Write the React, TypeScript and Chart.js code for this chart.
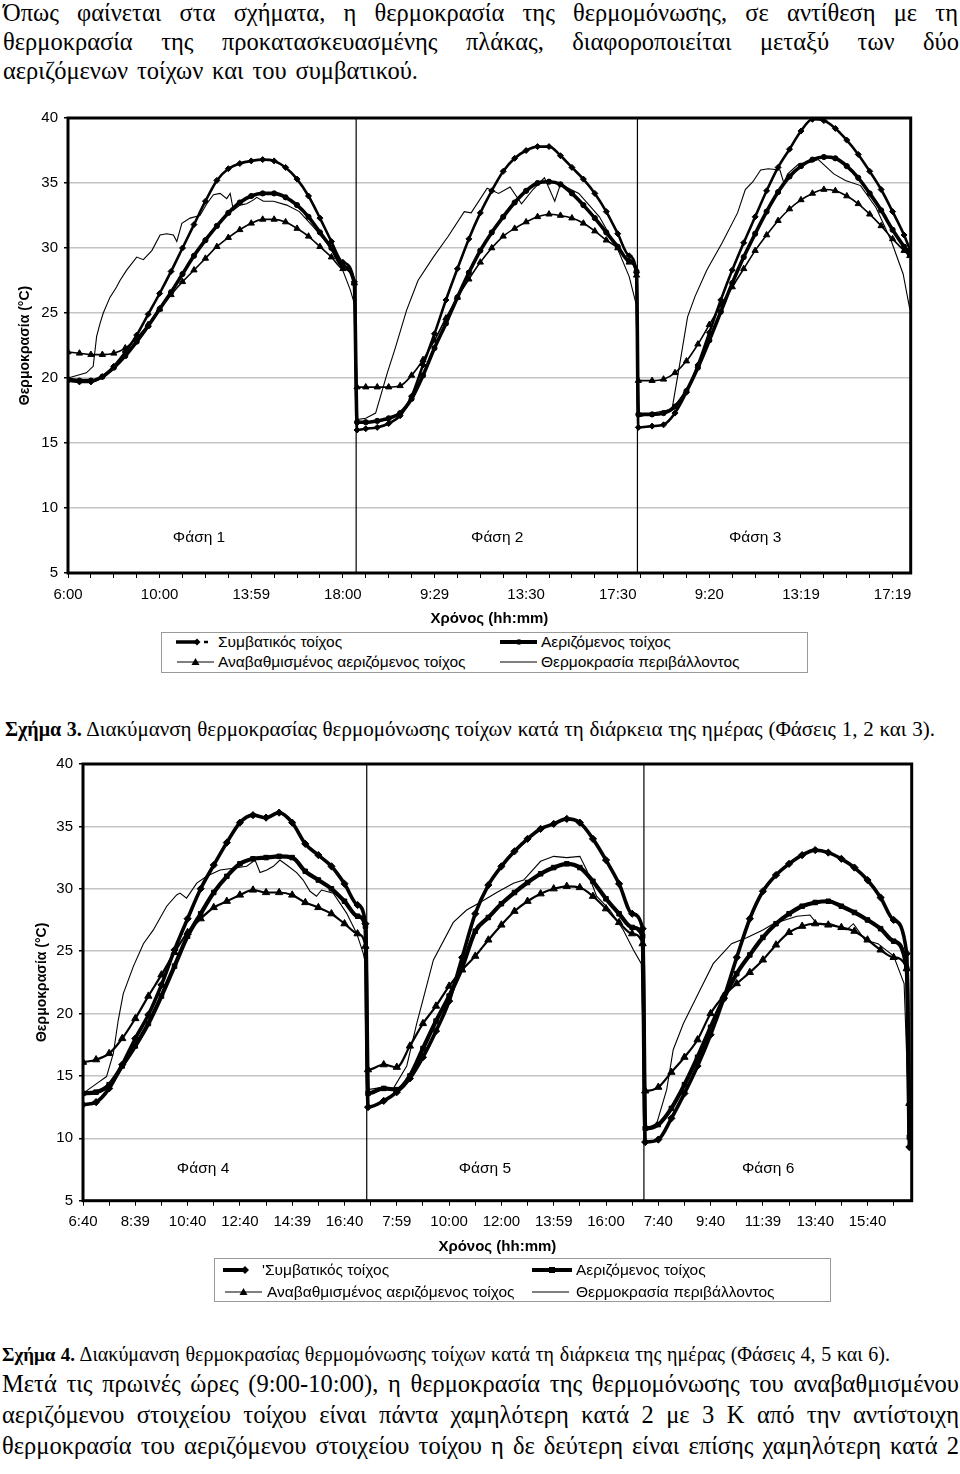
import React, { useEffect, useLayoutEffect, useRef } from 'react';
import { Chart, registerables } from 'chart.js';

Chart.register(...registerables);

const SANS = '"Liberation Sans", Arial, sans-serif';
const SERIF = '"Liberation Serif", "Times New Roman", serif';
Chart.defaults.font.family = SANS;

// ---------------- Σχήμα 3 (Φάσεις 1, 2, 3) ----------------
const xLabels3 = ['6:00', '10:00', '13:59', '18:00', '9:29', '13:30', '17:30', '9:20', '13:19', '17:19'];
const phaseNames3 = ['Φάση 1', 'Φάση 2', 'Φάση 3'];
const dividers3 = [12.58, 24.86];

const hours3 = [
  0, 0.5, 1, 1.5, 2, 2.5, 3, 3.5, 4, 4.5, 5, 5.5, 6, 6.5, 7, 7.5, 8, 8.5, 9, 9.5, 10, 10.5, 11, 11.5, 12, 12.5,
  12.62, 13, 13.5, 14, 14.5, 15, 15.5, 16, 16.5, 17, 17.5, 18, 18.5, 19, 19.5, 20, 20.5, 21, 21.5, 22, 22.5, 23, 23.5, 24, 24.5, 24.82,
  24.9, 25.5, 26, 26.5, 27, 27.5, 28, 28.5, 29, 29.5, 30, 30.5, 31, 31.5, 32, 32.5, 33, 33.5, 34, 34.5, 35, 35.5, 36, 36.5, 36.75,
];
const conv3 = [
  19.8, 19.7, 19.7, 20.1, 20.9, 22.0, 23.3, 24.9, 26.5, 28.2, 30.0, 31.8, 33.6, 35.2, 36.1, 36.5, 36.7, 36.8, 36.7, 36.2, 35.3, 34.0, 32.3, 30.5, 28.9, 27.4,
  16.0, 16.1, 16.2, 16.5, 17.1, 18.6, 21.0, 23.4, 26.0, 28.4, 30.7, 32.7, 34.4, 35.9, 36.9, 37.5, 37.8, 37.8, 37.1, 36.2, 35.3, 34.2, 32.8, 31.1, 29.4, 28.1,
  16.2, 16.3, 16.4, 17.3, 18.9, 21.0, 23.5, 26.0, 28.3, 30.4, 32.4, 34.4, 36.2, 37.6, 39.0, 39.9, 39.8, 39.2, 38.3, 37.2, 35.9, 34.5, 32.8, 31.0, 29.9,
];
const aer3 = [
  19.9, 19.8, 19.8, 20.1, 20.8, 21.7, 22.8, 24.0, 25.3, 26.6, 28.0, 29.4, 30.6, 31.7, 32.7, 33.5, 34.0, 34.2, 34.2, 33.9, 33.3, 32.4, 31.2, 30.0, 28.6, 27.3,
  16.6, 16.6, 16.7, 16.9, 17.3, 18.4, 20.2, 22.3, 24.2, 26.2, 28.1, 29.8, 31.2, 32.4, 33.5, 34.4, 35.0, 35.1, 34.9, 34.2, 33.3, 32.3, 31.2, 30.1, 29.0, 28.2,
  17.2, 17.2, 17.3, 17.8, 19.0, 20.8, 22.9, 25.1, 27.3, 29.3, 31.1, 32.8, 34.3, 35.5, 36.3, 36.8, 37.0, 36.9, 36.3, 35.4, 34.2, 32.9, 31.4, 30.1, 29.5,
];
const upg3 = [
  22.0, 21.9, 21.8, 21.8, 21.9, 22.3, 23.1, 24.1, 25.3, 26.4, 27.4, 28.3, 29.2, 30.1, 30.8, 31.4, 31.9, 32.2, 32.2, 32.0, 31.5, 30.9, 30.1, 29.3, 28.4, 27.3,
  19.3, 19.3, 19.3, 19.3, 19.4, 20.2, 21.4, 22.9, 24.6, 26.2, 27.6, 28.9, 30.0, 30.9, 31.5, 32.0, 32.4, 32.6, 32.5, 32.3, 31.9, 31.3, 30.6, 30.0, 28.9, 27.9,
  19.8, 19.8, 19.9, 20.4, 21.3, 22.6, 24.1, 25.6, 27.0, 28.4, 29.8, 31.0, 32.1, 33.0, 33.7, 34.2, 34.5, 34.4, 34.0, 33.4, 32.6, 31.7, 30.7, 29.8, 29.4,
];
const ambHours3 = [
  0, 0.8, 1.1, 1.25, 1.4, 1.54, 1.83, 2.12, 2.27, 2.56, 3.0, 3.29, 3.66, 4.02, 4.31, 4.6, 4.75, 4.97, 5.33, 5.76, 6.06, 6.35, 6.64, 6.93, 7.08,
  7.22, 7.51, 7.8, 8.1, 8.24, 8.53, 8.97, 9.55, 10.1, 10.72, 11.3, 11.88, 12.32, 12.54,
  12.62, 13.0, 13.43, 13.94, 14.27, 14.78, 15.28, 15.95, 16.6, 17.3, 17.6, 18.3, 18.8, 19.3, 19.8, 20.3, 20.8, 21.25, 21.5, 22.3, 23.2, 24.0, 24.5, 24.8,
  24.9, 25.53, 26.37, 26.71, 27.05, 27.38, 27.89, 28.56, 29.23, 29.57, 29.9, 30.24, 30.57, 31.08, 31.25, 31.42, 31.92, 32.42, 32.76, 33.43, 33.94,
  34.6, 35.28, 35.95, 36.46, 36.75,
];
const amb3 = [
  20.0, 20.4, 20.9, 23.2, 24.2, 25.0, 26.2, 27.0, 27.5, 28.3, 29.3, 29.1, 29.8, 31.0, 31.1, 31.0, 30.5, 31.9, 32.3, 32.5, 33.4, 34.1, 34.2, 33.8, 34.2,
  32.9, 33.3, 33.4, 33.7, 33.9, 33.6, 33.6, 33.3, 32.8, 31.6, 30.4, 28.8, 26.8, 25.5,
  16.8, 16.9, 17.3, 20.4, 22.2, 25.2, 27.5, 29.3, 30.9, 32.8, 32.7, 34.6, 34.2, 34.7, 33.4, 34.5, 35.4, 33.6, 34.9, 34.2, 32.4, 29.9, 27.8, 25.7,
  17.0, 17.3, 17.6, 21.1, 24.7, 26.3, 28.3, 30.4, 32.7, 34.5, 35.1, 36.0, 36.1, 36.0, 35.0, 35.7, 36.5, 36.6, 36.8, 35.7, 35.2,
  34.8, 33.1, 30.5, 28.0, 25.3,
];

// ---------------- Σχήμα 4 (Φάσεις 4, 5, 6) ----------------
const xLabels4 = ['6:40', '8:39', '10:40', '12:40', '14:39', '16:40', '7:59', '10:00', '12:00', '13:59', '16:00', '7:40', '9:40', '11:39', '13:40', '15:40'];
const phaseNames4 = ['Φάση 4', 'Φάση 5', 'Φάση 6'];
const dividers4 = [10.85, 21.45];

const hours4 = [
  0, 0.5, 1, 1.5, 2, 2.5, 3, 3.5, 4, 4.5, 5, 5.5, 6, 6.5, 7, 7.5, 8, 8.5, 9, 9.5, 10, 10.5, 10.8,
  10.9, 11.5, 12, 12.5, 13, 13.5, 14, 14.5, 15, 15.5, 16, 16.5, 17, 17.5, 18, 18.5, 19, 19.5, 20, 20.5, 21, 21.4,
  21.5, 22, 22.5, 23, 23.5, 24, 24.5, 25, 25.5, 26, 26.5, 27, 27.5, 28, 28.5, 29, 29.5, 30, 30.5, 31, 31.5, 31.6,
];
const conv4 = [
  12.7, 12.9, 14.0, 15.9, 18.0, 19.9, 22.3, 25.1, 27.6, 30.0, 31.9, 33.7, 35.3, 35.9, 35.7, 36.1, 35.3, 33.6, 32.7, 31.8, 30.4, 28.7, 27.2,
  12.5, 13.0, 13.7, 14.8, 16.5, 18.6, 21.0, 24.5, 28.0, 30.3, 31.8, 33.0, 34.0, 34.8, 35.2, 35.6, 35.3, 34.0, 32.3, 30.4, 28.0, 26.8,
  9.7, 9.9, 11.6, 13.6, 15.8, 18.3, 21.2, 24.5, 27.6, 29.8, 31.1, 32.0, 32.7, 33.1, 32.9, 32.4, 31.7, 30.7, 29.3, 27.5, 24.8, 9.3,
];
const aer4 = [
  13.6, 13.7, 14.3, 15.8, 17.4, 19.2, 21.4, 23.8, 26.2, 28.0, 29.7, 31.0, 32.0, 32.4, 32.5, 32.6, 32.5, 31.4, 30.7, 30.0, 29.0, 27.8, 27.0,
  13.6, 14.0, 13.9, 15.0, 17.2, 19.4, 21.4, 23.7, 26.6, 27.7, 28.8, 29.7, 30.5, 31.2, 31.7, 32.0, 31.7, 30.6, 29.2, 28.0, 26.9, 26.2,
  10.8, 11.1, 12.4, 14.3, 16.5, 18.9, 21.2, 23.2, 24.7, 26.1, 27.2, 28.0, 28.6, 28.9, 29.0, 28.6, 28.1, 27.5, 26.8, 25.8, 23.6, 10.1,
];
const upg4 = [
  16.1, 16.3, 16.8, 18.0, 19.6, 21.4, 23.1, 24.9, 26.5, 27.6, 28.5, 29.0, 29.5, 29.9, 29.7, 29.7, 29.5, 28.9, 28.5, 28.0, 27.2, 26.4, 25.4,
  15.5, 15.9, 15.7, 17.4, 19.2, 20.6, 22.2, 23.5, 24.6, 25.9, 27.1, 28.2, 29.0, 29.6, 30.0, 30.2, 30.1, 29.4, 28.4, 27.3, 26.4, 25.6,
  13.8, 14.1, 15.3, 16.5, 17.9, 20.0, 21.4, 22.4, 23.3, 24.3, 25.5, 26.5, 27.0, 27.2, 27.1, 26.9, 26.6, 25.9, 25.1, 24.5, 23.6, 12.8,
];
const ambHours4 = [
  0, 0.6, 0.9, 1.16, 1.35, 1.54, 1.93, 2.31, 2.69, 3.2, 3.58, 3.71, 3.96, 4.35, 4.73, 5.24, 5.75, 6.26, 6.58, 6.77, 7.03, 7.28, 7.53, 7.79, 8.17,
  8.42, 8.68, 8.93, 9.12, 9.57, 10.08, 10.47, 10.72, 10.82,
  10.9, 11.5, 11.87, 12.38, 12.76, 13.0, 13.4, 14.16, 14.67, 15.18, 15.82, 16.46, 16.85, 17.5, 18.0, 18.5, 19.0, 19.26, 19.64, 20.15, 20.66, 21.05, 21.35,
  21.5, 21.94, 22.32, 22.57, 22.96, 23.34, 23.6, 24.1, 24.8, 25.4, 26.0, 26.4, 27.3, 27.8, 28.06, 28.6, 29.2, 29.46, 29.9, 30.4, 31.0, 31.4, 31.6,
];
const amb4 = [
  13.6, 14.5, 14.95, 16.8, 19.5, 21.6, 23.8, 25.6, 26.7, 28.6, 29.5, 29.65, 29.25, 30.45, 31.0, 31.5, 31.65, 31.8, 32.3, 31.3, 31.5, 31.8, 32.3, 31.9, 31.3,
  30.7, 29.8, 29.4, 29.9, 29.65, 28.05, 26.4, 24.8, 23.8,
  13.9, 14.1, 14.0, 15.8, 19.2, 21.1, 24.3, 27.3, 28.3, 28.9, 29.7, 30.45, 30.7, 32.2, 32.6, 32.5, 32.6, 31.5, 29.4, 28.3, 26.7, 25.1, 24.0,
  10.7, 11.2, 13.9, 17.1, 19.2, 20.8, 21.9, 24.0, 25.6, 26.1, 26.7, 27.2, 27.8, 27.9, 27.2, 27.2, 26.7, 27.2, 25.9, 25.6, 24.6, 22.4, 10.5,
];

const seriesNames = ['Συμβατικός τοίχος', 'Αεριζόμενος τοίχος', 'Αναβαθμισμένος αεριζόμενος τοίχος', 'Θερμοκρασία περιβάλλοντος'];

type Fig = {
  hours: number[]; conv: number[]; aer: number[]; upg: number[];
  ambHours: number[]; amb: number[];
  xLabels: string[]; labelEvery: number; xMax: number;
  dividers: number[]; phaseNames: string[]; phaseHours: number[]; phaseTemp: number;
  aerStyle: string;
  lw: { conv: number; aer: number; upg: number; convR: number; aerR: number; upgR: number };
  top: number; height: number; yAxisWidth: number; padTop: number; padRight: number;
  xAxisHeight: number; yTitlePad: number; xTitlePad: number; tickPad: number;
};

const fig3: Fig = {
  hours: hours3, conv: conv3, aer: aer3, upg: upg3, ambHours: ambHours3, amb: amb3,
  xLabels: xLabels3, labelEvery: 4, xMax: 36.79,
  dividers: dividers3, phaseNames: phaseNames3, phaseHours: [5.72, 18.74, 30.0], phaseTemp: 7.7,
  aerStyle: 'circle',
  lw: { conv: 2.6, aer: 3.6, upg: 1.6, convR: 3, aerR: 2.6, upgR: 3.6 },
  top: 100, height: 530, yAxisWidth: 68, padTop: 18, padRight: 49.3, xAxisHeight: 57,
  yTitlePad: 16.6, xTitlePad: 2.4, tickPad: 8.2,
};
const fig4: Fig = {
  hours: hours4, conv: conv4, aer: aer4, upg: upg4, ambHours: ambHours4, amb: amb4,
  xLabels: xLabels4, labelEvery: 2, xMax: 31.69,
  dividers: dividers4, phaseNames: phaseNames4, phaseHours: [4.59, 15.37, 26.2], phaseTemp: 7.6,
  aerStyle: 'rect',
  lw: { conv: 3.6, aer: 4.2, upg: 2.2, convR: 3.6, aerR: 3.2, upgR: 4.2 },
  top: 740, height: 520, yAxisWidth: 83, padTop: 24, padRight: 48.3, xAxisHeight: 59.3,
  yTitlePad: 33.6, xTitlePad: 4.2, tickPad: 7.5,
};

const decorPlugin = {
  id: 'decor',
  beforeDatasetsDraw(chart: any, _args: any, opts: any) {
    const { ctx, chartArea: a, scales } = chart;
    const x = scales.x, y = scales.y;
    ctx.save();
    ctx.strokeStyle = '#000';
    ctx.lineWidth = 1.2;
    for (const d of opts.dividers) {
      const px = x.getPixelForValue(d);
      ctx.beginPath();
      ctx.moveTo(px, a.top);
      ctx.lineTo(px, a.bottom);
      ctx.stroke();
    }
    ctx.fillStyle = '#000';
    ctx.font = `15.5px ${SANS}`;
    ctx.textAlign = 'center';
    ctx.textBaseline = 'middle';
    opts.phaseNames.forEach((t: string, i: number) => {
      ctx.fillText(t, x.getPixelForValue(opts.phaseHours[i]), y.getPixelForValue(opts.phaseTemp));
    });
    ctx.restore();
  },
  afterDatasetsDraw(chart: any) {
    const { ctx, chartArea: a } = chart;
    ctx.save();
    ctx.strokeStyle = '#000';
    ctx.lineWidth = 3;
    ctx.strokeRect(a.left, a.top, a.right - a.left, a.bottom - a.top);
    ctx.restore();
  },
};

function FigureChart({ fig }: { fig: Fig }) {
  const ref = useRef<HTMLCanvasElement>(null);
  useEffect(() => {
    const pts = (xs: number[], ys: number[]) => xs.map((x, i) => ({ x, y: ys[i] }));
    const tickVals = Array.from({ length: Math.floor(fig.xMax) + 1 }, (_, i) => i);
    const lw = fig.lw;
    const chart = new Chart(ref.current as HTMLCanvasElement, {
      type: 'line',
      data: {
        datasets: [
          {
            label: seriesNames[3], data: pts(fig.ambHours, fig.amb), borderColor: '#000', borderWidth: 1.1,
            pointRadius: 0, tension: 0,
          },
          {
            label: seriesNames[2], data: pts(fig.hours, fig.upg), borderColor: '#000', backgroundColor: '#000',
            borderWidth: lw.upg, pointStyle: 'triangle', pointRadius: lw.upgR, pointBorderWidth: 1, cubicInterpolationMode: 'monotone',
          },
          {
            label: seriesNames[1], data: pts(fig.hours, fig.aer), borderColor: '#000', backgroundColor: '#000',
            borderWidth: lw.aer, pointStyle: fig.aerStyle, pointRadius: lw.aerR, pointBorderWidth: 1, cubicInterpolationMode: 'monotone',
          },
          {
            label: seriesNames[0], data: pts(fig.hours, fig.conv), borderColor: '#000', backgroundColor: '#000',
            borderWidth: lw.conv, pointStyle: 'rectRot', pointRadius: lw.convR, pointBorderWidth: 1, cubicInterpolationMode: 'monotone',
          },
        ] as any,
      },
      options: {
        animation: false,
        responsive: false,
        maintainAspectRatio: false,
        layout: { padding: { top: fig.padTop, right: fig.padRight, left: 0, bottom: 0 } },
        plugins: {
          legend: { display: false },
          tooltip: { enabled: false },
          decor: { dividers: fig.dividers, phaseNames: fig.phaseNames, phaseHours: fig.phaseHours, phaseTemp: fig.phaseTemp },
        } as any,
        scales: {
          x: {
            type: 'linear', min: 0, max: fig.xMax,
            afterBuildTicks: (s: any) => { s.ticks = tickVals.map((v) => ({ value: v })); },
            afterFit: (s: any) => { s.height = fig.xAxisHeight; },
            grid: { drawOnChartArea: false, drawTicks: true, tickLength: 5, tickColor: '#000', color: '#000' },
            border: { display: false },
            ticks: {
              autoSkip: false, maxRotation: 0, minRotation: 0, padding: fig.tickPad, color: '#000',
              font: { family: SANS, size: 15 },
              callback: (v: any) => {
                const n = Math.round(Number(v));
                return n % fig.labelEvery === 0 ? (fig.xLabels[n / fig.labelEvery] ?? '') : '';
              },
            },
            title: {
              display: true, text: 'Χρόνος (hh:mm)', color: '#000',
              font: { family: SANS, size: 15, weight: 'bold' }, padding: { top: 0, bottom: fig.xTitlePad },
            },
          },
          y: {
            type: 'linear', min: 5, max: 40,
            afterFit: (s: any) => { s.width = fig.yAxisWidth; },
            grid: { color: '#c4c4c4', lineWidth: 1.5, tickLength: 4, tickColor: '#000' },
            border: { display: false },
            ticks: { stepSize: 5, padding: 6, color: '#000', font: { family: SANS, size: 15 } },
            title: {
              display: true, text: 'Θερμοκρασία (°C)', color: '#000',
              font: { family: SANS, size: 14, weight: 'bold' }, padding: { top: fig.yTitlePad, bottom: 0 },
            },
          },
        } as any,
      },
      plugins: [decorPlugin as any],
    });
    return () => chart.destroy();
  }, [fig]);
  return (
    <canvas
      ref={ref}
      width={960}
      height={fig.height}
      style={{ position: 'absolute', left: 0, top: fig.top, width: 960, height: fig.height }}
    />
  );
}

function TextLine({ y, left, width, size, lh, children }: any) {
  const ref = useRef<HTMLSpanElement>(null);
  useLayoutEffect(() => {
    const el = ref.current;
    if (!el) return;
    el.style.wordSpacing = '0px';
    el.style.transform = '';
    const natural = el.getBoundingClientRect().width;
    const spaces = ((el.textContent || '').match(/ /g) || []).length;
    if (natural < width && spaces > 0) {
      el.style.wordSpacing = `${(width - natural) / spaces}px`;
    } else if (natural > width) {
      el.style.transform = `scaleX(${width / natural})`;
    }
  });
  return (
    <div
      style={{
        position: 'absolute', left, top: y - lh / 2, height: lh, lineHeight: `${lh}px`,
        fontSize: size, fontFamily: SERIF, whiteSpace: 'nowrap', color: '#000',
      }}
    >
      <span ref={ref} style={{ display: 'inline-block', transformOrigin: 'left center' }}>{children}</span>
    </div>
  );
}

function Sym({ kind, x, y }: { kind: string; x: number; y: number }) {
  const w = 42, h = 14, c = 7;
  let body: any = null;
  if (kind === 'conv3') {
    body = (
      <g>
        <line x1={0} y1={c} x2={20} y2={c} stroke="#000" strokeWidth={3.5} />
        <polygon points={`${21},${c - 3.5} ${24.5},${c} ${21},${c + 3.5} ${17.5},${c}`} fill="#000" />
        <line x1={28} y1={c} x2={32} y2={c} stroke="#000" strokeWidth={2.5} />
      </g>
    );
  } else if (kind === 'conv4') {
    body = (
      <g>
        <line x1={0} y1={c} x2={22} y2={c} stroke="#000" strokeWidth={4} />
        <polygon points={`${22},${c - 4} ${26},${c} ${22},${c + 4} ${18},${c}`} fill="#000" />
      </g>
    );
  } else if (kind === 'upg') {
    body = (
      <g>
        <line x1={0} y1={c} x2={37} y2={c} stroke="#000" strokeWidth={1.2} />
        <polygon points={`${18.5},${c - 4} ${22.5},${c + 3} ${14.5},${c + 3}`} fill="#000" />
      </g>
    );
  } else if (kind === 'aer3') {
    body = (
      <g>
        <line x1={0} y1={c} x2={37} y2={c} stroke="#000" strokeWidth={4} />
        <circle cx={19} cy={c} r={2.8} fill="#000" />
      </g>
    );
  } else if (kind === 'aer4') {
    body = (
      <g>
        <line x1={0} y1={c} x2={40} y2={c} stroke="#000" strokeWidth={4} />
        <rect x={17} y={c - 3} width={6} height={6} fill="#000" />
      </g>
    );
  } else {
    body = <line x1={0} y1={c} x2={37} y2={c} stroke="#000" strokeWidth={1.2} />;
  }
  return (
    <svg width={w} height={h} style={{ position: 'absolute', left: x, top: y - c }}>
      {body}
    </svg>
  );
}

function LegendBox({ box, items }: any) {
  return (
    <>
      <div
        style={{
          position: 'absolute', left: box.left, top: box.top, width: box.width, height: box.height,
          border: '1px solid #9a9a9a', boxSizing: 'border-box',
        }}
      />
      {items.map((it: any, i: number) => (
        <React.Fragment key={i}>
          <Sym kind={it.sym} x={it.sx} y={it.sy} />
          <div
            style={{
              position: 'absolute', left: it.tx, top: it.sy - 10, height: 20, lineHeight: '20px',
              fontFamily: SANS, fontSize: 15.5, color: '#000', whiteSpace: 'nowrap',
            }}
          >
            {it.text}
          </div>
        </React.Fragment>
      ))}
    </>
  );
}

export default function App() {
  useEffect(() => {
    document.body.style.margin = '0';
  }, []);
  return (
    <div style={{ position: 'absolute', left: 0, top: 0, width: 960, height: 1474, overflow: 'hidden', background: '#fff' }}>
      <TextLine y={12} left={3} width={955} size={24.5} lh={29}>
        Όπως φαίνεται στα σχήματα, η θερμοκρασία της θερμομόνωσης, σε αντίθεση με τη
      </TextLine>
      <TextLine y={41} left={3} width={956} size={24.5} lh={29}>
        θερμοκρασία της προκατασκευασμένης πλάκας, διαφοροποιείται μεταξύ των δύο
      </TextLine>
      <TextLine y={70} left={3} width={415} size={24.5} lh={29}>
        αεριζόμενων τοίχων και του συμβατικού.
      </TextLine>

      <FigureChart fig={fig3} />
      <LegendBox
        box={{ left: 161, top: 632, width: 647, height: 41 }}
        items={[
          { sym: 'conv3', sx: 176, sy: 642, tx: 218, text: seriesNames[0] },
          { sym: 'upg', sx: 177, sy: 662, tx: 218, text: seriesNames[2] },
          { sym: 'aer3', sx: 500, sy: 642, tx: 541, text: seriesNames[1] },
          { sym: 'amb', sx: 500, sy: 662, tx: 541, text: seriesNames[3] },
        ]}
      />

      <TextLine y={729} left={5} width={930} size={21} lh={26}>
        <b style={{ fontSize: 20 }}>Σχήμα 3.</b> Διακύμανση θερμοκρασίας θερμομόνωσης τοίχων κατά τη διάρκεια της ημέρας (Φάσεις 1, 2 και 3).
      </TextLine>

      <FigureChart fig={fig4} />
      <LegendBox
        box={{ left: 214, top: 1258, width: 617, height: 44 }}
        items={[
          { sym: 'conv4', sx: 223, sy: 1270, tx: 262, text: "'" + seriesNames[0] },
          { sym: 'upg', sx: 225, sy: 1292, tx: 267, text: seriesNames[2] },
          { sym: 'aer4', sx: 532, sy: 1270, tx: 576, text: seriesNames[1] },
          { sym: 'amb', sx: 532, sy: 1292, tx: 576, text: seriesNames[3] },
        ]}
      />

      <TextLine y={1354} left={2} width={888} size={20} lh={26}>
        <b style={{ fontSize: 19 }}>Σχήμα 4.</b> Διακύμανση θερμοκρασίας θερμομόνωσης τοίχων κατά τη διάρκεια της ημέρας (Φάσεις 4, 5 και 6).
      </TextLine>
      <TextLine y={1384} left={2} width={957} size={24.5} lh={30}>
        Μετά τις πρωινές ώρες (9:00-10:00), η θερμοκρασία της θερμομόνωσης του αναβαθμισμένου
      </TextLine>
      <TextLine y={1415} left={2} width={957} size={24.5} lh={30}>
        αεριζόμενου στοιχείου τοίχου είναι πάντα χαμηλότερη κατά 2 με 3 K από την αντίστοιχη
      </TextLine>
      <TextLine y={1446} left={2} width={957} size={24.5} lh={30}>
        θερμοκρασία του αεριζόμενου στοιχείου τοίχου η δε δεύτερη είναι επίσης χαμηλότερη κατά 2
      </TextLine>
    </div>
  );
}
